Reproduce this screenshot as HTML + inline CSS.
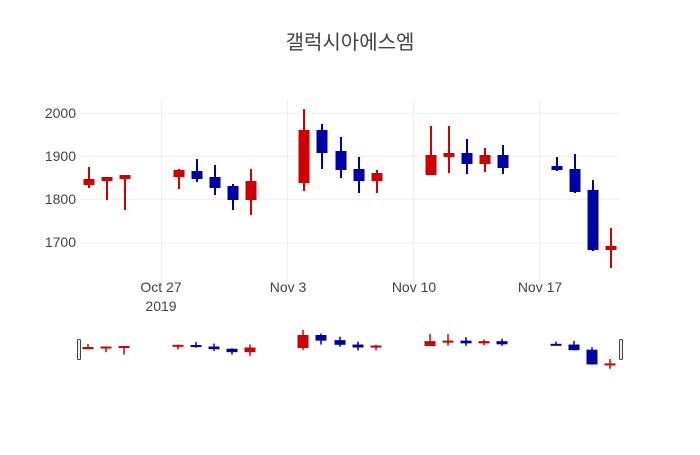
<!DOCTYPE html>
<html><head><meta charset="utf-8"><style>
body{margin:0;background:#fff}
svg text{font-family:"Liberation Sans","Noto Sans CJK KR",sans-serif;fill:#444}
</style></head><body>
<svg width="700" height="450" xmlns="http://www.w3.org/2000/svg">
<rect width="700" height="450" fill="#fff"/>
<text x="350" y="49" font-size="20" text-anchor="middle" fill="#444">갤럭시아에스엠</text>
<g stroke="#ebedf0" stroke-width="1">
<line x1="80" x2="620" y1="113.3" y2="113.3"/><line x1="80" x2="620" y1="156.3" y2="156.3"/>
<line x1="80" x2="620" y1="199.3" y2="199.3"/><line x1="80" x2="620" y1="243" y2="243"/>
<line x1="161.5" x2="161.5" y1="100" y2="285"/><line x1="287.5" x2="287.5" y1="100" y2="285"/>
<line x1="413.5" x2="413.5" y1="100" y2="285"/><line x1="539.5" x2="539.5" y1="100" y2="285"/>
</g>
<g font-size="14" text-anchor="end">
<text x="76" y="118">2000</text><text x="76" y="161">1900</text><text x="76" y="204">1800</text><text x="76" y="247">1700</text>
</g>
<g font-size="14" text-anchor="middle">
<text x="161" y="292">Oct 27</text><text x="161" y="311">2019</text>
<text x="288" y="292">Nov 3</text><text x="414" y="292">Nov 10</text><text x="540" y="292">Nov 17</text>
</g>
<g id="c"></g>
<rect x="77.5" y="339.5" width="3" height="20" fill="#f2f2f2" stroke="#444" stroke-width="1" rx="1"/>
<rect x="619.5" y="339.5" width="3" height="20" fill="#f2f2f2" stroke="#444" stroke-width="1" rx="1"/>
</svg>
<script>
var R="#d10000",B="#0000a8";
var d=[[89,R,179,185,167,188],[107,R,177,181,177,200],[125,R,175,179,175,210],
[179,R,170,177,169,189],[197,B,171,179,159,182],[215,B,177,188,165,195],[233,B,186,200,184,210],[251,R,181,200,169,215],
[304,R,130,183,109,191],[322,B,130,153,124,169],[341,B,151,170,137,178],[359,B,169,181,157,193],[377,R,173,181,170,193],
[431,R,155,175,126,174],[449,R,153,157,126,173],[467,B,153,164,139,174],[485,R,155,164,148,172],[503,B,155,168,145,174],
[557,B,166,170,157,171],[575,B,169,192,154,193],[593,B,190,250,180,251],[611,R,246,250,228,268]];
var s="";
function m(y){return 335+(y-130)*0.245;}
d.forEach(function(c){
 var x=c[0],col=c[1];
 s+='<line x1="'+x+'" x2="'+x+'" y1="'+c[4]+'" y2="'+Math.max(c[5],c[3])+'" stroke="'+col+'" stroke-width="2"/>';
 s+='<rect x="'+(x-5.5)+'" y="'+c[2]+'" width="11" height="'+Math.max(c[3]-c[2],2)+'" fill="'+col+'"/>';
 var x2=x-1;
 s+='<line x1="'+x2+'" x2="'+x2+'" y1="'+m(c[4])+'" y2="'+m(Math.max(c[5],c[3]))+'" stroke="'+col+'" stroke-width="1.5"/>';
 s+='<rect x="'+(x2-5.5)+'" y="'+m(c[2])+'" width="11" height="'+Math.max((c[3]-c[2])*0.245,2)+'" fill="'+col+'"/>';
});
document.getElementById("c").innerHTML=s;
</script>
</body></html>
